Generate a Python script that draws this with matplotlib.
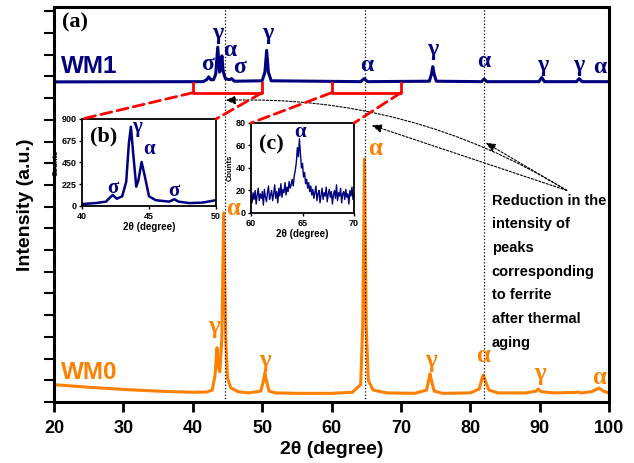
import matplotlib
matplotlib.use('Agg')
import matplotlib.pyplot as plt
from matplotlib.patches import ConnectionPatch

plt.rcParams['font.family'] = ['Liberation Sans', 'DejaVu Sans']
plt.rcParams['font.weight'] = 'bold'

# main pattern, WM0 (as received) - intensity in arbitrary units
wm0_2theta = [20, 25, 30, 35, 40, 42, 42.8, 43.2, 43.5, 43.7, 43.9, 44.2, 44.45, 44.75, 45.0,
              45.5, 46.5, 48, 49.8, 50.2, 50.4, 50.6, 51.0, 52, 55, 60, 63, 64.2, 64.5, 64.75,
              65.0, 65.3, 66, 68, 72, 73.7, 74.0, 74.2, 74.4, 74.8, 76, 80, 81.3, 81.7, 81.9,
              82.2, 82.7, 84, 88, 89.5, 89.8, 90.2, 92, 95, 95.5, 96, 97.5, 98.3, 98.6, 99.2, 100]
wm0_int = [0.80, 0.68, 0.58, 0.50, 0.45, 0.46, 0.55, 1.2, 2.5, 1.6, 1.4, 3.0, 8.7, 3.0, 1.1,
           0.65, 0.48, 0.42, 0.50, 1.0, 1.34, 1.0, 0.50, 0.42, 0.40, 0.40, 0.45, 0.8, 3.5, 11.2,
           3.5, 1.0, 0.55, 0.42, 0.40, 0.55, 1.0, 1.3, 1.0, 0.50, 0.40, 0.42, 0.60, 1.1, 1.25,
           0.95, 0.55, 0.42, 0.42, 0.50, 0.60, 0.48, 0.42, 0.44, 0.46, 0.42, 0.48, 0.60, 0.64, 0.50, 0.42]

# WM1 (after thermal aging), shifted up
wm1_2theta = [20, 41.5, 42.0, 42.3, 42.6, 43.0, 43.3, 43.6, 43.85, 44.0, 44.2, 44.4, 44.7, 45.3,
              45.6, 46.0, 50.0, 50.4, 50.65, 50.9, 51.3, 64.2, 64.7, 65.2, 74.1, 74.4, 74.6, 74.8,
              75.1, 81.6, 82.0, 82.4, 89.9, 90.3, 90.7, 95.3, 95.7, 96.1, 100]
wm1_int = [14.75, 14.76, 14.85, 14.98, 14.85, 14.85, 15.1, 16.35, 15.2, 15.3, 15.95, 15.2, 14.9, 14.85,
           14.9, 14.78, 14.8, 15.2, 16.2, 15.2, 14.8, 14.76, 14.9, 14.76, 14.78, 15.1, 15.45, 15.1,
           14.78, 14.76, 14.88, 14.76, 14.76, 14.95, 14.76, 14.76, 14.9, 14.76, 14.76]

# inset (b): WM1 40-50 deg
b_2theta = [40, 41, 41.8, 42.1, 42.3, 42.6, 43.0, 43.3, 43.5, 43.65, 43.85, 44.05, 44.2, 44.45,
            44.7, 45.0, 45.5, 46.5, 46.9, 47.2, 48, 49, 50]
b_counts = [20, 30, 45, 90, 113, 75, 100, 250, 650, 820, 500, 200, 260, 455,
            300, 100, 60, 45, 70, 45, 30, 35, 60]

# inset (c): WM1 60-70 deg, step 0.1
c_2theta = [60 + i * 0.1 for i in range(101)]
c_counts = [15, 9, 18, 12, 20, 8, 16, 22, 11, 17,
            13, 19, 7, 21, 14, 10, 18, 24, 12, 16,
            20, 11, 17, 25, 13, 19, 9, 22, 15, 26,
            14, 21, 18, 27, 16, 23, 19, 28, 22, 25,
            30, 24, 33, 38, 45, 58, 50, 66, 52, 40,
            44, 32, 36, 26, 30, 22, 27, 19, 24, 16,
            21, 13, 18, 24, 11, 17, 20, 9, 16, 22,
            12, 18, 15, 23, 10, 17, 21, 14, 19, 8,
            16, 20, 13, 25, 11, 18, 15, 22, 9, 17,
            19, 12, 21, 14, 17, 8, 20, 15, 23, 12,
            16]

ferrite_lines = [44.6, 64.8, 82.0]

ORANGE = '#FF8000'
NAVY = '#000080'
GREEK = 'Liberation Serif'

fig = plt.figure(figsize=(6.34, 4.63), dpi=100)
ax = fig.add_axes([0.0852, 0.1317, 0.8754, 0.8532])

ax.plot(wm0_2theta, wm0_int, color=ORANGE, lw=2.2)
ax.plot(wm1_2theta, wm1_int, color=NAVY, lw=2.2)
for x in ferrite_lines:
    ax.axvline(x, color='k', ls=':', lw=0.9, zorder=3)

ax.set_xlim(20, 100)
ax.set_ylim(0, 18.2)
ax.set_xticks(range(20, 101, 10))
ax.set_yticks(range(0, 19))
ax.set_yticklabels([])
ax.tick_params(axis='x', direction='out', length=7, width=2, labelsize=13, pad=6)
ax.tick_params(axis='y', direction='out', length=7, width=1.5)
for s in ax.spines.values():
    s.set_linewidth(2.2)
ax.set_xlabel('2θ (degree)', fontsize=14, fontweight='bold', labelpad=3)
ax.set_ylabel('Intensity (a.u.)', fontsize=14, fontweight='bold', labelpad=4)

# series labels
ax.text(21.0, 15.45, 'WM1', color=NAVY, fontsize=17.5, fontweight='bold', va='center')
ax.text(21.0, 1.35, 'WM0', color=ORANGE, fontsize=17.5, fontweight='bold', va='center')
ax.text(21.2, 17.5, '(a)', fontsize=16, fontweight='bold', family='Liberation Serif', va='center')

# phase labels
wm1_labels = [('γ', 43.6, 17.0), ('α', 45.3, 16.2), ('σ', 42.1, 15.55), ('σ', 46.7, 15.4),
              ('γ', 50.8, 17.0), ('α', 65.0, 15.5), ('γ', 74.6, 16.25), ('α', 82.0, 15.7),
              ('γ', 90.5, 15.5), ('γ', 95.7, 15.5), ('α', 98.7, 15.4)]
for t, x, y in wm1_labels:
    ax.text(x, y, t, color=NAVY, fontsize=17, fontweight='bold', family=GREEK,
            ha='center', va='center')

wm0_labels = [('α', 45.8, 8.9), ('γ', 43.0, 3.5), ('γ', 50.4, 1.9), ('α', 66.3, 11.7),
              ('γ', 74.3, 1.9), ('α', 81.9, 2.15), ('γ', 90.1, 1.3), ('α', 98.6, 1.15)]
for t, x, y in wm0_labels:
    ax.text(x, y, t, color=ORANGE, fontsize=18, fontweight='bold', family=GREEK,
            ha='center', va='center')

# red brackets marking the zoomed regions
for a, b in [(40, 50), (60, 70)]:
    ax.plot([a, a, b, b], [14.7, 14.25, 14.25, 14.7], color='red', lw=2, zorder=4)

# annotation
ax.text(83.1, 9.6, 'Reduction in the\nintensity of\npeaks\ncorresponding\nto ferrite\nafter thermal\naging',
        fontsize=10.5, fontweight='bold', va='top', ha='left', linespacing=1.88)
apk = dict(arrowstyle='-|>,head_length=0.6,head_width=0.25', color='k', lw=0.8,
           ls=(0, (2, 1.5)), shrinkA=0, shrinkB=0)
ax.annotate('', xy=(44.7, 13.9), xytext=(93.9, 9.75),
            arrowprops=dict(apk, connectionstyle='arc3,rad=0.15'))
ax.annotate('', xy=(65.8, 12.75), xytext=(93.9, 9.75), arrowprops=apk)
ax.annotate('', xy=(82.2, 11.95), xytext=(93.9, 9.75), arrowprops=apk)

# inset (b)
axb = fig.add_axes([0.1293, 0.5551, 0.2114, 0.1879])
axb.plot(b_2theta, b_counts, color=NAVY, lw=1.8)
axb.set_xlim(40, 50)
axb.set_ylim(0, 900)
axb.set_xticks([40, 45, 50])
axb.set_yticks([0, 225, 450, 675, 900])
axb.tick_params(labelsize=6.5, length=2.5, width=1, pad=1.5)
axb.set_xlabel('2θ (degree)', fontsize=7, fontweight='bold', labelpad=1)
axb.set_ylabel('Counts', fontsize=5.5, fontweight='bold', labelpad=1)
axb.text(0.06, 0.8, '(b)', transform=axb.transAxes, fontsize=16, fontweight='bold',
         family='Liberation Serif', va='center')
for t, x, y in [('σ', 42.3, 190), ('γ', 44.1, 820), ('α', 45.0, 590), ('σ', 46.85, 150)]:
    axb.text(x, y, t, color=NAVY, fontsize=15, fontweight='bold', family=GREEK,
             ha='center', va='center')

# inset (c)
axc = fig.add_axes([0.3959, 0.54, 0.1625, 0.1944])
axc.plot(c_2theta, c_counts, color=NAVY, lw=1.0)
axc.set_xlim(60, 70)
axc.set_ylim(0, 80)
axc.set_xticks([60, 65, 70])
axc.set_yticks([0, 20, 40, 60, 80])
axc.tick_params(labelsize=6.5, length=2.5, width=1, pad=1.5)
axc.set_xlabel('2θ (degree)', fontsize=7, fontweight='bold', labelpad=1)
axc.set_ylabel('Counts', fontsize=5.5, fontweight='bold', labelpad=1)
axc.text(0.08, 0.76, '(c)', transform=axc.transAxes, fontsize=16, fontweight='bold',
         family='Liberation Serif', va='center')
axc.text(64.75, 72, 'α', color=NAVY, fontsize=15, fontweight='bold', family=GREEK,
         ha='center', va='center')

for a in (axb, axc):
    for s in a.spines.values():
        s.set_linewidth(1.3)

# dashed red connectors
for (xa, axi, ytop) in [(40, axb, 900), (50, axb, 900), (60, axc, 80), (70, axc, 80)]:
    cp = ConnectionPatch(xyA=(xa, 14.25), coordsA=ax.transData, xyB=(xa, ytop), coordsB=axi.transData,
                         color='red', lw=2, ls=(0, (4, 2)), zorder=5)
    fig.add_artist(cp)

fig.savefig('out.png', dpi=100)
